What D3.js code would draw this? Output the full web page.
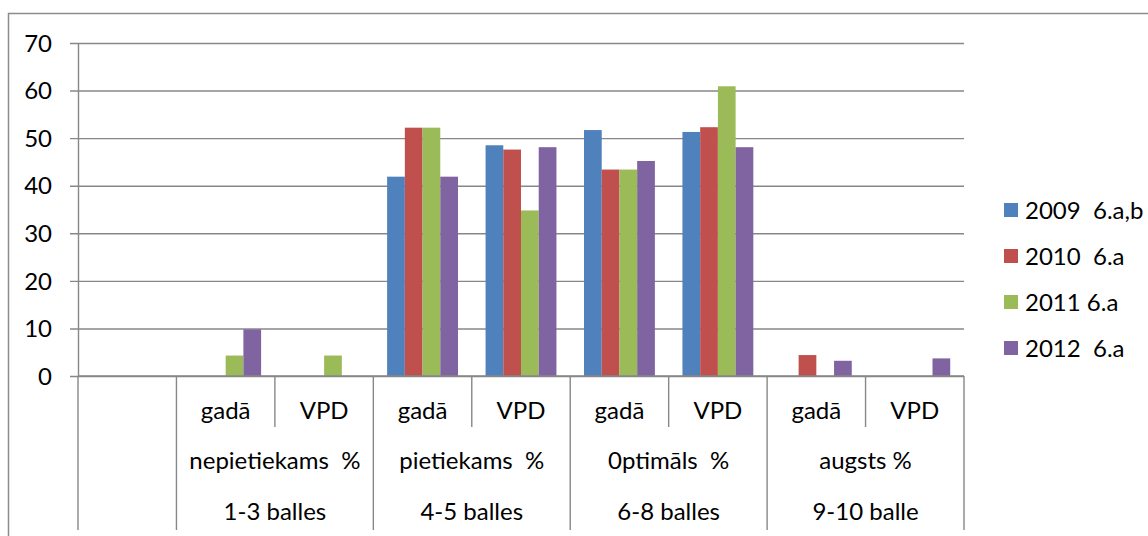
<!DOCTYPE html>
<html>
<head>
<meta charset="utf-8">
<script src="https://cdn.jsdelivr.net/npm/d3@7"></script>
<style>
  body { margin: 0; background: #fff; }
  text { font-family: Lato, "Liberation Sans", sans-serif; fill: #000; }
</style>
</head>
<body>
<div class="chart"></div>
<script>
var svgWidth = 1148;
var svgHeight = 536;

// data
var levelOne = ["", "gadā", "VPD", "gadā", "VPD", "gadā", "VPD", "gadā", "VPD"];
var levelTwo = ["", "nepietiekams  %", "pietiekams  %", "0ptimāls  %", "augsts %"];
var levelThree = ["", "1-3 balles", "4-5 balles", "6-8 balles", "9-10 balle"];
var groupBounds = [0, 1, 3, 5, 7, 9];

var seriesNames = ["2009  6.a,b", "2010  6.a", "2011 6.a", "2012  6.a"];
var seriesColors = ["#4F81BD", "#C0504D", "#9BBB59", "#8064A2"];
var s2009 = [0, 0, 0, 41.9, 48.5, 51.7, 51.3, 0, 0];
var s2010 = [0, 0, 0, 52.2, 47.6, 43.4, 52.3, 4.4, 0];
var s2011 = [0, 4.3, 4.3, 52.2, 34.8, 43.4, 60.9, 0, 0];
var s2012 = [0, 9.8, 0, 41.9, 48.1, 45.2, 48.1, 3.2, 3.7];
var seriesValues = [s2009, s2010, s2011, s2012];
var yTicks = [0, 10, 20, 30, 40, 50, 60, 70];

var plot = { left: 78, right: 964, top: 43, bottom: 376 };
var fontSize = "24px";

var svg = d3.select(".chart")
  .append("svg")
  .attr("width", svgWidth)
  .attr("height", svgHeight);

svg.append("rect")
  .attr("width", svgWidth)
  .attr("height", svgHeight)
  .attr("fill", "#fff");

// outer chart border (cropped at right and bottom)
svg.append("path")
  .attr("d", "M8.5," + svgHeight + "V13.5H" + svgWidth)
  .attr("fill", "none")
  .attr("stroke", "#8c8c8c")
  .attr("stroke-width", 1.5);

var yScale = d3.scaleLinear()
  .domain([0, 70])
  .range([plot.bottom, plot.top]);

var x0 = d3.scaleBand()
  .domain(d3.range(levelOne.length))
  .range([plot.left, plot.right])
  .paddingInner(0.28)
  .paddingOuter(0.14);

var x1 = d3.scaleBand()
  .domain(d3.range(seriesNames.length))
  .range([0, x0.bandwidth()]);

var edge = d3.scaleLinear()
  .domain([0, levelOne.length])
  .range([plot.left, plot.right]);

// gridlines
var grid = svg.append("g")
  .attr("transform", "translate(" + (plot.left - 8) + ",0)")
  .call(d3.axisRight(yScale).tickValues(yTicks).tickSize(plot.right - plot.left + 8).tickFormat(""));
grid.select(".domain").remove();
grid.selectAll("line").attr("stroke", "#878787").attr("stroke-width", 1.4);

// y axis
var yAxis = svg.append("g")
  .attr("transform", "translate(" + plot.left + ",0)")
  .call(d3.axisLeft(yScale).tickValues(yTicks).tickSize(0).tickPadding(26));
yAxis.select(".domain").attr("stroke", "#878787").attr("stroke-width", 1.4);
yAxis.selectAll("text")
  .style("font-size", fontSize)
  .style("font-family", "Lato, 'Liberation Sans', sans-serif")
  .attr("dy", "0.34em");

// bars
seriesValues.forEach(function(values, si) {
  svg.append("g")
    .selectAll("rect")
    .data(values)
    .enter().append("rect")
      .attr("x", function(d, i) { return x0(i) + x1(si); })
      .attr("y", function(d) { return yScale(d); })
      .attr("width", x1.bandwidth())
      .attr("height", function(d) { return plot.bottom - yScale(d); })
      .attr("fill", seriesColors[si]);
});

// category axis with three label rows
var catAxis = svg.append("g");
d3.range(levelOne.length + 1).forEach(function(i) {
  var isGroup = groupBounds.indexOf(i) >= 0;
  catAxis.append("line")
    .attr("x1", edge(i)).attr("x2", edge(i))
    .attr("y1", plot.bottom)
    .attr("y2", isGroup ? 530 : 427)
    .attr("stroke", "#878787")
    .attr("stroke-width", 1.4);
});
catAxis.append("line")
  .attr("x1", plot.left).attr("x2", plot.right)
  .attr("y1", plot.bottom).attr("y2", plot.bottom)
  .attr("stroke", "#878787")
  .attr("stroke-width", 1.4);

catAxis.selectAll(".l1")
  .data(levelOne)
  .enter().append("text")
    .attr("x", function(d, i) { return (edge(i) + edge(i + 1)) / 2; })
    .attr("y", 419)
    .attr("text-anchor", "middle")
    .style("font-size", fontSize)
    .style("white-space", "pre")
    .text(function(d) { return d; });

[levelTwo, levelThree].forEach(function(labels, row) {
  catAxis.selectAll(".row" + row)
    .data(labels)
    .enter().append("text")
      .attr("x", function(d, i) { return (edge(groupBounds[i]) + edge(groupBounds[i + 1])) / 2; })
      .attr("y", row === 0 ? 469 : 520)
      .attr("text-anchor", "middle")
      .style("font-size", fontSize)
      .style("white-space", "pre")
      .text(function(d) { return d; });
});

// legend
var legend = svg.append("g")
  .selectAll("g")
  .data(seriesNames)
  .enter().append("g")
    .attr("transform", function(d, i) { return "translate(1004," + (210 + i * 46) + ")"; });

legend.append("rect")
  .attr("y", -7)
  .attr("width", 14)
  .attr("height", 14)
  .attr("fill", function(d, i) { return seriesColors[i]; });

legend.append("text")
  .attr("x", 21)
  .attr("dy", "0.36em")
  .style("font-size", fontSize)
  .style("white-space", "pre")
  .text(function(d) { return d; });
</script>
</body>
</html>
